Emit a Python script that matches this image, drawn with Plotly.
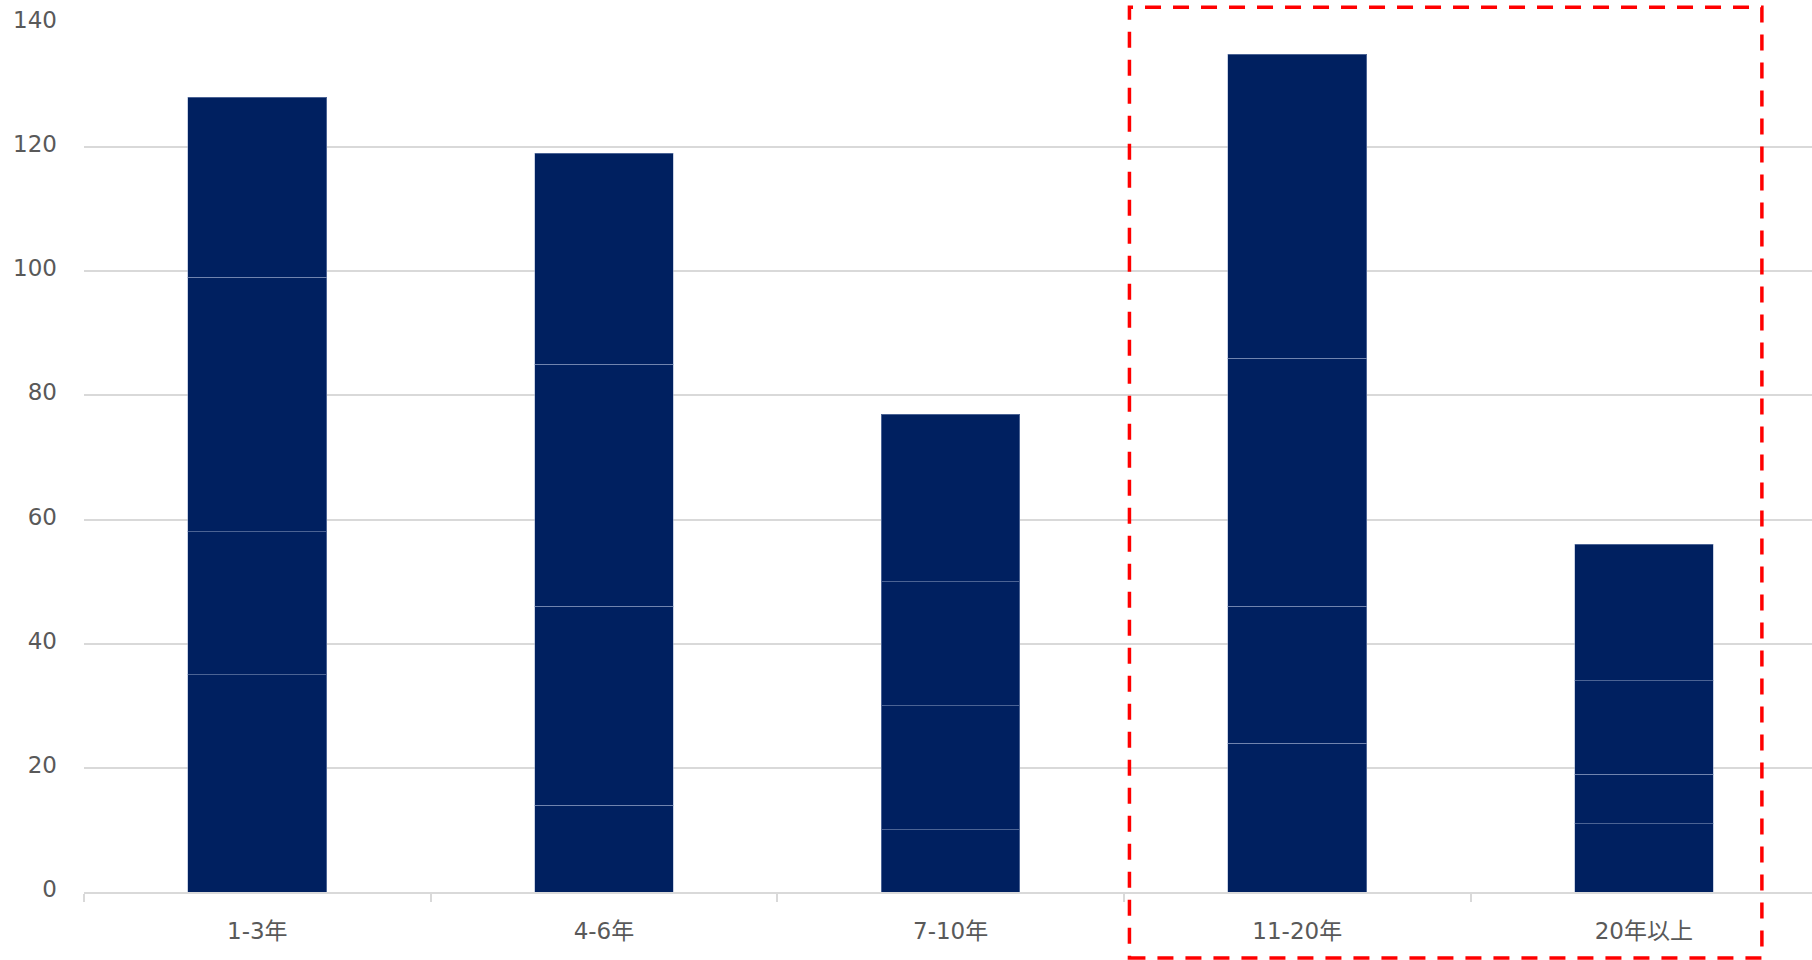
import plotly.graph_objects as go

# Tenure bands on the x axis
categories = ["1-3年", "4-6年", "7-10年", "11-20年", "20年以上"]

# Stacked segment values, bottom to top
segment_1 = [35, 14, 10, 24, 11]
segment_2 = [23, 32, 20, 22, 8]
segment_3 = [41, 39, 20, 40, 15]
segment_4 = [29, 34, 27, 49, 22]

y_ticks = [0, 20, 40, 60, 80, 100, 120, 140]

NAVY = "#002060"
FONT = "DejaVu Sans, Noto Sans CJK JP, sans-serif"

fig = go.Figure()
for name, vals in [("s1", segment_1), ("s2", segment_2), ("s3", segment_3), ("s4", segment_4)]:
    fig.add_trace(go.Bar(
        x=categories, y=vals, name=name,
        marker=dict(color=NAVY, line=dict(color="rgba(150,165,200,0.5)", width=1)),
        hoverinfo="x+y",
    ))

# Dashed highlight box around the last two bands
fig.add_shape(
    type="rect", xref="paper", yref="paper",
    x0=0.605, x1=0.971, y0=-0.076, y1=1.018,
    line=dict(color="#ff0000", width=3.5, dash="16px,12px"),
    fillcolor="rgba(0,0,0,0)", layer="above",
)

fig.update_layout(
    barmode="stack",
    bargap=0.6,
    width=1812, height=960,
    margin=dict(l=84, r=0, t=23, b=68),
    paper_bgcolor="white", plot_bgcolor="white",
    showlegend=False,
    font=dict(family=FONT, size=23, color="#595959"),
)
fig.update_xaxes(
    type="category",
    range=[-0.5, 4.485],
    showline=True, linecolor="#d9d9d9", linewidth=1.5,
    ticks="outside", tickson="boundaries", ticklen=8, tickcolor="#d9d9d9", tickwidth=1.5,
    ticklabelstandoff=18,
    showgrid=False,
    tickfont=dict(family=FONT, size=23, color="#595959"),
)
fig.update_yaxes(
    range=[0, 140], tickvals=y_ticks,
    showgrid=True, gridcolor="#d9d9d9", gridwidth=1.5,
    zeroline=False, showline=False, ticks="",
    ticklabelstandoff=26, ticklabelshift=-3,
    tickfont=dict(family=FONT, size=23, color="#595959"),
)

fig.write_html("out.html")
